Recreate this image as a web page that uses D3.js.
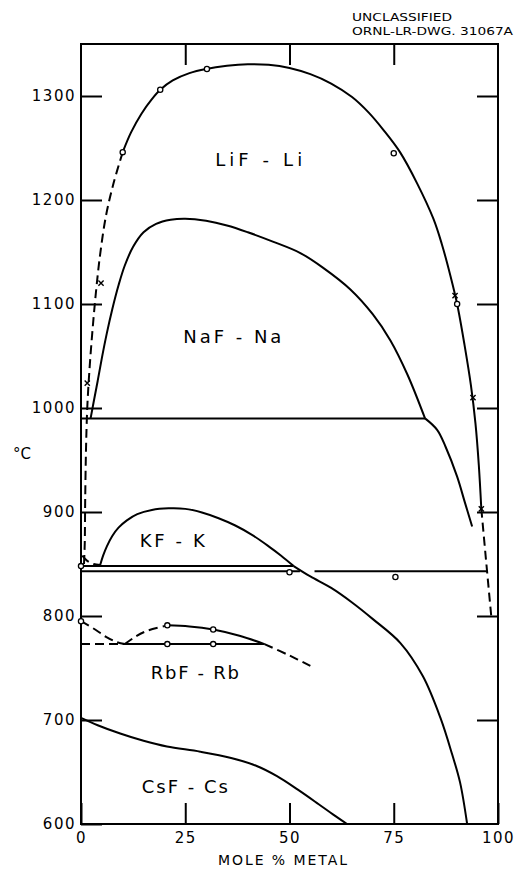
<!DOCTYPE html>
<html>
<head>
<meta charset="utf-8">
<script src="https://cdn.jsdelivr.net/npm/d3@7/dist/d3.min.js"></script>
<style>
  html, body { margin: 0; padding: 0; background: #fff; }
  svg { display: block; }
  text { font-family: "DejaVu Sans", "Liberation Sans", sans-serif; fill: #000; }
</style>
</head>
<body>
<svg id="chart" width="518" height="870"></svg>
<script>
// Axis ticks
const xTicks = [0, 25, 50, 75, 100];
const yTicks = [600, 700, 800, 900, 1000, 1100, 1200, 1300];

// LiF - Li liquid miscibility boundary
const lifSolid = [[10,1246],[12,1265],[14.5,1283],[17,1297],[19,1306],[22,1315],[26,1322],[30,1326],[35,1329],[40,1330.5],[45,1330],[50,1327],[55,1321],[60,1312],[65,1299],[69,1284],[72.6,1267],[76.5,1246],[80.6,1216],[84.5,1182],[86.5,1158],[88.6,1127],[90.2,1100],[92,1060],[93.5,1022],[94.6,985],[95.4,945],[96,903]];
const lifDashLeft = [[10,1246],[7.8,1216],[6,1185],[4.6,1148],[3.6,1112],[2.7,1072],[2,1035],[1.5,1000],[1.2,960],[1,910],[0.9,870],[0.7,848]];
const lifDashRight = [[96,903],[97.1,855],[98.4,799]];
const lifLineA = [[0,843],[52.5,843]];
const lifLineB = [[56,843],[97.6,843]];
const lifCircles = [[10,1246],[19,1306],[30.2,1326],[75,1245],[90.2,1100],[0,848],[50,842],[75.4,837.5]];
const lifCrosses = [[4.8,1120],[1.5,1024],[89.7,1108],[94,1010],[96,903]];

// NaF - Na
const nafDome = [[2.3,990],[3,1005],[4,1026],[5,1048],[6.2,1072],[7.5,1095],[9,1118],[10.5,1137],[12.5,1155],[15,1169],[18,1177],[21.5,1181],[25,1182],[30,1180],[35,1175.5],[40,1169],[46,1160],[52.6,1149],[58,1135],[64.6,1114],[70,1090],[74.2,1065],[78.3,1032],[82.5,990]];
const nafTail = [[82.5,990],[85.4,979],[87.4,963],[90.2,934],[92,910],[93.8,886]];
const nafLine = [[0,990],[82.5,990]];

// KF - K
const kfDash = [[0.3,858],[1.5,853],[3,850],[4.6,849]];
const kfDome = [[4.6,849],[5.3,858],[6.2,867],[7.5,877],[9,885],[11,892],[13.5,898],[17,902],[21,903.5],[25,903],[29,899.5],[33,894],[37,887],[41,878],[45,867],[48,858],[51,848]];
const kfTail = [[51,848],[55,838],[60,827],[65,813],[70,797],[76.6,774],[82,742],[86.2,702],[89,667],[90.9,640],[92.6,600]];
const kfLine = [[0,848],[51,848]];

// RbF - Rb
const rbfDashTop = [[0,795],[3,788],[6,780],[8.5,775],[10.5,773]];
const rbfDashRise = [[10.5,773],[13,780],[16,786],[20.7,791]];
const rbfSolid = [[20.7,791],[26,790],[31.7,787],[38,781],[44,773]];
const rbfDashTail = [[44,773],[50,762],[55,752]];
const rbfLineDash = [[0,773],[10,773]];
const rbfLine = [[10,773],[44,773]];
const rbfCircles = [[0,795],[20.7,791],[31.7,787],[20.7,773],[31.7,773]];

// CsF - Cs
const csfCurve = [[0,702],[4,695],[9.4,687],[15,680],[20.6,674.5],[28.6,669.5],[36,663.5],[42,656],[47,646],[52,633],[57,619],[60.5,609],[63.8,600]];

const systemLabels = [
  {text: "LiF - Li", x: 42.6, t: 1238.5, w: 87},
  {text: "NaF - Na", x: 36.3, t: 1068.5, w: 98},
  {text: "KF - K", x: 21.9, t: 873, w: 65},
  {text: "RbF - Rb", x: 27.3, t: 746, w: 88},
  {text: "CsF - Cs", x: 24.9, t: 636.5, w: 86}
];

const svg = d3.select("#chart");
const x = d3.scaleLinear().domain([0, 100]).range([81, 498]);
const y = d3.scaleLinear().domain([600, 1350]).range([824, 44]);

const line = d3.line().x(d => x(d[0])).y(d => y(d[1])).curve(d3.curveCatmullRom.alpha(0.5));
const straight = d3.line().x(d => x(d[0])).y(d => y(d[1]));

// frame
svg.append("rect")
  .attr("x", x(0)).attr("y", y(1350))
  .attr("width", x(100) - x(0)).attr("height", y(600) - y(1350))
  .attr("fill", "none").attr("stroke", "#000").attr("stroke-width", 2);

function styleAxis(g) {
  g.select(".domain").remove();
  g.selectAll(".tick line").attr("stroke", "#000").attr("stroke-width", 2);
  g.selectAll(".tick text").attr("fill", "#000").style("font-size", "15px")
    .style("letter-spacing", "1.5px")
    .style("font-family", '"DejaVu Sans", sans-serif');
}

svg.append("g").attr("transform", `translate(${x(0)},0)`)
  .call(d3.axisLeft(y).tickValues(yTicks).tickSize(-21).tickPadding(5).tickFormat(d3.format("d")))
  .call(styleAxis);
svg.append("g").attr("transform", `translate(${x(100)},0)`)
  .call(d3.axisRight(y).tickValues(yTicks.slice(1)).tickSize(-21).tickFormat(""))
  .call(styleAxis);
svg.append("g").attr("transform", `translate(0,${y(600)})`)
  .call(d3.axisBottom(x).tickValues(xTicks).tickSize(-21).tickPadding(8).tickFormat(d3.format("d")))
  .call(styleAxis);
svg.append("g").attr("transform", `translate(0,${y(1350)})`)
  .call(d3.axisTop(x).tickValues(xTicks.slice(1, 4)).tickSize(-21).tickFormat(""))
  .call(styleAxis);

const curves = svg.append("g").attr("fill", "none").attr("stroke", "#000").attr("stroke-width", 2);
function draw(data, dashed, gen) {
  curves.append("path").attr("d", (gen || line)(data))
    .attr("stroke-dasharray", dashed ? "9,5" : null);
}

draw(lifSolid); draw(lifDashLeft, true); draw(lifDashRight, true);
draw(lifLineA, false, straight); draw(lifLineB, false, straight);
draw(nafDome); draw(nafTail); draw(nafLine, false, straight);
draw(kfDash, true); draw(kfDome); draw(kfTail); draw(kfLine, false, straight);
draw(rbfDashTop, true); draw(rbfDashRise, true); draw(rbfSolid); draw(rbfDashTail, true);
draw(rbfLineDash, true, straight); draw(rbfLine, false, straight);
draw(csfCurve);

// experimental points
svg.append("g").selectAll("circle").data(lifCircles.concat(rbfCircles)).join("circle")
  .attr("cx", d => x(d[0])).attr("cy", d => y(d[1])).attr("r", 2.6)
  .attr("fill", "#fff").attr("stroke", "#000").attr("stroke-width", 1.3);
svg.append("g").selectAll("path").data(lifCrosses).join("path")
  .attr("d", d => {
    const cx = x(d[0]), cy = y(d[1]), s = 2.6;
    return `M${cx - s},${cy - s}L${cx + s},${cy + s}M${cx - s},${cy + s}L${cx + s},${cy - s}`;
  })
  .attr("stroke", "#000").attr("stroke-width", 1.4);

// system labels
svg.append("g").selectAll("text").data(systemLabels).join("text")
  .attr("x", d => x(d.x)).attr("y", d => y(d.t))
  .attr("text-anchor", "middle").attr("dominant-baseline", "central")
  .attr("textLength", d => d.w).attr("lengthAdjust", "spacing")
  .style("font-size", "18px")
  .text(d => d.text);

// axis titles
svg.append("text").attr("x", 22).attr("y", 454)
  .attr("text-anchor", "middle").attr("dominant-baseline", "central")
  .style("font-size", "15px").text("°C");
svg.append("text").attr("x", 218).attr("y", 860)
  .attr("dominant-baseline", "central")
  .attr("textLength", 129).attr("lengthAdjust", "spacing")
  .style("font-size", "14px").text("MOLE % METAL");

// drawing number
svg.append("text").attr("x", 352).attr("y", 17)
  .attr("dominant-baseline", "central")
  .attr("textLength", 100).attr("lengthAdjust", "spacingAndGlyphs")
  .style("font-size", "10px").text("UNCLASSIFIED");
svg.append("text").attr("x", 352).attr("y", 31)
  .attr("dominant-baseline", "central")
  .attr("textLength", 161).attr("lengthAdjust", "spacingAndGlyphs")
  .style("font-size", "10.5px").text("ORNL-LR-DWG. 31067A");
</script>
</body>
</html>
